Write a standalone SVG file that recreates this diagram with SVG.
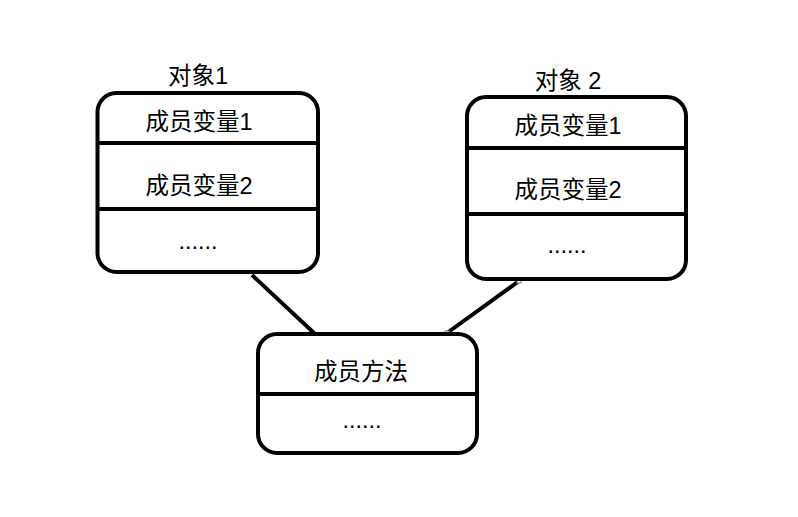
<svg xmlns="http://www.w3.org/2000/svg" width="798" height="517" viewBox="0 0 798 517">
<style>
.box{fill:#fff;stroke:#000;stroke-width:4}
.div{stroke:#000;stroke-width:4}
.t{font-family:"Liberation Sans","Noto Sans CJK SC",sans-serif;font-size:23.5px;fill:#000;text-anchor:middle}
.conn{stroke:#000;stroke-width:4;fill:none}
.h{fill:#fff;stroke:#888;stroke-width:1}
</style>
<rect width="798" height="517" fill="#fff"/>
<g id="connectors">
<line class="conn" x1="252" y1="275" x2="314" y2="333"/>
<line class="conn" x1="519" y1="281" x2="447" y2="333"/>
<rect class="h" x="517" y="279" width="4" height="4"/>
<rect class="h" x="445" y="331" width="4" height="4"/>
</g>
<g id="obj1">
<text class="t" x="198" y="84">对象1</text>
<rect class="box" x="97.5" y="93" width="220.5" height="179" rx="19"/>
<line class="div" x1="97.5" y1="143" x2="318" y2="143"/>
<line class="div" x1="97.5" y1="209" x2="318" y2="209"/>
<text class="t" x="199" y="130">成员变量1</text>
<text class="t" x="199" y="194">成员变量2</text>
<text class="t" x="198" y="249">......</text>
</g>
<g id="obj2">
<text class="t" x="568" y="89">对象 2</text>
<rect class="box" x="467" y="97" width="219" height="182" rx="19"/>
<line class="div" x1="467" y1="148" x2="686" y2="148"/>
<line class="div" x1="467" y1="214" x2="686" y2="214"/>
<text class="t" x="568" y="134">成员变量1</text>
<text class="t" x="568" y="198">成员变量2</text>
<text class="t" x="567" y="253">......</text>
</g>
<g id="methods">
<rect class="box" x="258" y="334" width="219" height="119" rx="19"/>
<line class="div" x1="258" y1="394" x2="477" y2="394"/>
<text class="t" x="361" y="380">成员方法</text>
<text class="t" x="362" y="428">......</text>
</g>
</svg>
